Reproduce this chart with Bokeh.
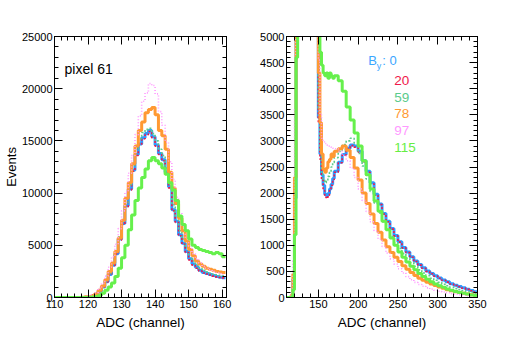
from bokeh.plotting import figure
from bokeh.layouts import row
from bokeh.models import (LinearAxis, SingleIntervalTicker, Label, Range1d, ColumnDataSource,
                          CustomLabelingPolicy, CustomJSTickFormatter)
from bokeh.embed import file_html
from bokeh.resources import INLINE

FONT = "Liberation Sans"

# ---------------- data ----------------
SERIES = ["0", "20", "59", "78", "97", "115"]
COLORS = {"0": "#2f9bff", "20": "#f0184a", "59": "#5ccb8c", "78": "#ff9933", "97": "#ff99ff", "115": "#66f04c"}
LABEL_COLORS = {"0": "#3aa6ff", "20": "#f0184a", "59": "#5ccb8c", "78": "#ff9933", "97": "#ff99ff", "115": "#66ee44"}

# left panel: 1-channel bins starting at 110
LEFT_FIRST_BIN = 110
LEFT_BIN_WIDTH = 1
left_0 = [0,0,0,0,0,0,0,0,10,30, 60,150,300,600,1000,1500,2200,3100,4200,5600,
          7100,8800,10400,12200,13700,14700,15300,15700,16000,15400,
          14600,13800,13200,12000,10600,8400,7300,6000,5200,4400,
          3700,3200,2900,2600,2400,2300,2200,2100,2000,1950, 1900]
left_20 = [0,0,0,0,0,0,0,0,10,30, 50,140,290,580,980,1480,2150,3050,4150,5500,
           7000,8700,10300,12100,13600,14600,15200,15600,15900,15300,
           14500,13700,13100,11900,10500,8300,7200,5900,5100,4300,
           3600,3100,2800,2550,2350,2250,2150,2050,1980,1930, 1880]
left_59 = [0,0,0,0,0,0,0,0,10,30, 70,170,330,650,1080,1600,2350,3300,4400,5800,
           7400,9100,10800,12600,14200,15200,15800,16100,16200,15700,
           15000,14200,13600,12400,11000,8900,7700,6400,5600,4800,
           4100,3500,3100,2800,2600,2450,2350,2250,2180,2120, 2080]
left_78 = [0,0,0,0,0,0,0,0,20,60, 100,200,350,700,1100,1700,2500,3300,4400,5700,
           7400,9500,11000,12800,14500,16000,16800,17700,18000,18200,
           17500,16000,15500,14200,12000,10500,9000,7600,6400,5400,
           4600,4000,3500,3200,3000,2800,2700,2600,2500,2450, 2400]
left_97 = [0,0,0,0,0,0,0,0,30,80, 150,250,450,850,1350,2050,2900,3900,5100,6600,
           8300,10100,11900,13600,15600,17400,18800,19600,20500,20300,
           19500,17800,16500,14900,13000,11300,9600,8100,6800,5700,
           4900,4200,3700,3300,3000,2800,2650,2500,2400,2300, 2200]
left_115 = [0,0,0,0,0,0,0,0,0,10, 20,50,100,200,400,700,1000,1400,2000,2800,
            3800,5000,6500,7900,9300,10500,11500,12300,13100,13400,
            13100,12800,12400,11800,11000,10300,9300,7800,7000,6400,
            5600,5000,4800,4600,4500,4400,4300,4200,4300,4200, 3900]

# right panel: bin edges (2-channel bins up to 170, 5-channel bins after)
right_edges = list(range(110, 170, 2)) + list(range(170, 351, 5))
right_0 = [0,0,0,40,350,1900,5400,9000,12500,15000,15800,15900,15600,15200,14800,14000,12600,10500,7600,5200,
           3450,2750,2350,2150,1980,1950,1990,2080,2170,2280,
           2420,2590,2740,2860,2920,2900,2800,2620,2420,2200,1980,1790,1610,1460,1320,1190,1070,960,
           870,780,700,630,570,510,460,415,375,335,300,265,235,210,185,160,135,110]
right_20 = [0,0,0,30,330,1850,5300,8900,12400,14900,15700,15800,15500,15100,14700,13900,12500,10400,7500,5100,
            3350,2650,2250,2050,1920,1900,1960,2050,2150,2260,
            2400,2580,2730,2850,2910,2880,2790,2600,2400,2180,1960,1780,1600,1450,1310,1180,1060,950,
            860,770,690,620,560,500,455,410,370,330,295,260,230,205,180,155,130,105]
right_59 = [0,0,0,40,380,2000,5600,9300,12800,15300,16100,16200,15900,15500,15100,14300,12900,10800,7900,5400,
            3600,2800,2400,2250,2200,2230,2320,2400,2500,2580,
            2680,2800,2930,3000,3050,2960,2760,2520,2270,2030,1810,1620,1450,1300,1170,1050,940,840,
            750,670,600,530,470,420,370,330,290,255,225,195,170,150,130,110,95,80]
right_78 = [0,0,0,50,450,2300,6200,10200,14000,16800,18000,18200,17900,17400,16900,16000,14500,12000,8800,6000,
            4300,3350,2750,2450,2400,2480,2600,2650,2750,2700,
            2800,2850,2900,2820,2680,2480,2250,2000,1800,1600,1420,1250,1100,970,860,770,690,610,
            540,480,420,370,330,290,260,230,200,175,150,130,110,95,80,65,55,45]
right_97 = [0,0,0,120,700,3600,7000,11200,15200,18300,20000,20500,20200,19500,18800,17600,15800,13000,9500,6400,
            4550,3500,3050,2980,2950,2920,2900,2900,2880,2860,
            2850,2800,2720,2620,2480,2300,2080,1860,1650,1450,1280,1120,980,850,740,640,550,470,
            400,340,290,250,215,185,160,140,120,105,90,75,65,55,45,35,30,25]
right_115 = [0,0,0,10,150,1200,4600,8000,10800,12600,13300,13400,13200,12900,12500,12000,11200,10000,8500,6800,
             5600,4700,4450,4300,4250,4300,4200,4300,4250,4200,
             4250,4150,3950,3650,3400,3150,2900,2620,2350,2080,1850,1650,1460,1300,1140,1000,870,770,
             680,600,530,460,400,350,300,260,225,195,165,140,115,95,80,65,50,40]

LEFT = {"0": left_0, "20": left_20, "59": left_59, "78": left_78, "97": left_97, "115": left_115}
RIGHT = {"0": right_0, "20": right_20, "59": right_59, "78": right_78, "97": right_97, "115": right_115}

STYLE = {
    "0":   dict(line_width=3.0),
    "20":  dict(line_width=1.6, line_dash="2 2"),
    "59":  dict(line_width=1.6, line_dash="2 2"),
    "78":  dict(line_width=3.0),
    "97":  dict(line_width=1.6, line_dash="1 2"),
    "115": dict(line_width=3.0),
}

NO_LABELS = """
const all = [...indices]
for (const i of all) { indices.unset(i) }
return indices
"""


def style_axis(ax, interval, labels=True):
    ax.ticker = SingleIntervalTicker(interval=interval, num_minor_ticks=5)
    ax.major_tick_in = 8
    ax.major_tick_out = 0
    ax.minor_tick_in = 4
    ax.minor_tick_out = 0
    ax.axis_line_color = "black"
    ax.major_tick_line_color = "black"
    ax.minor_tick_line_color = "black"
    ax.major_label_text_font = FONT
    ax.major_label_text_color = "black"
    ax.major_label_text_font_size = "11px"
    ax.axis_label_text_font = FONT
    ax.axis_label_text_font_style = "normal"
    ax.axis_label_text_color = "black"
    if labels:
        ax.major_label_standoff = 2
    else:
        ax.major_label_standoff = 0
        ax.formatter = CustomJSTickFormatter(code="return ''")
        ax.major_label_policy = CustomLabelingPolicy(code=NO_LABELS)


def make_panel(frame_w, xr, yr, bl, br, xint, yint):
    p = figure(frame_width=frame_w, frame_height=261, x_range=Range1d(*xr), y_range=Range1d(*yr),
               output_backend="svg", toolbar_location=None,
               min_border_left=bl, min_border_right=br, min_border_top=36, min_border_bottom=40)
    p.xgrid.visible = False
    p.ygrid.visible = False
    p.outline_line_color = "black"
    p.outline_line_width = 1
    p.background_fill_color = "white"
    p.border_fill_color = "white"
    bottom = p.below[0]
    left = p.left[0]
    style_axis(bottom, xint)
    style_axis(left, yint)
    bottom.axis_label = "ADC (channel)"
    bottom.axis_label_text_font_size = "13.5px"
    bottom.axis_label_standoff = 4
    top = LinearAxis()
    style_axis(top, xint, labels=False)
    p.add_layout(top, "above")
    right = LinearAxis()
    style_axis(right, yint, labels=False)
    p.add_layout(right, "right")
    return p, left


def draw_hist(p, edges, values, key):
    src = ColumnDataSource(dict(x=list(edges), y=list(values) + [values[-1]]))
    p.step(x="x", y="y", source=src, mode="after", line_color=COLORS[key], **STYLE[key])


# ---------------- left panel ----------------
p1, yax1 = make_panel(172, (110, 161.3), (0, 25000), 47, 23, 10, 5000)
yax1.axis_label = "Events"
yax1.axis_label_text_font_size = "13px"
yax1.axis_label_standoff = 0
for k in SERIES:
    vals = LEFT[k]
    edges = [LEFT_FIRST_BIN + i * LEFT_BIN_WIDTH for i in range(len(vals) + 1)]
    draw_hist(p1, edges, vals, k)
p1.add_layout(Label(x=113, y=21900, text="pixel 61", text_font=FONT, text_font_size="14px",
                    text_color="black", text_baseline="alphabetic"))

# ---------------- right panel ----------------
p2, _ = make_panel(191, (110, 350), (0, 5000), 37, 21, 50, 500)
for k in SERIES:
    draw_hist(p2, right_edges, RIGHT[k], k)

LEG_X = 245.5
p2.add_layout(Label(x=LEG_X, y=4540, x_offset=-26, text="B", text_font=FONT, text_font_size="13px",
                    text_color=LABEL_COLORS["0"], text_baseline="alphabetic", text_align="left"))
p2.add_layout(Label(x=LEG_X, y=4440, x_offset=-17.5, text="y", text_font=FONT, text_font_size="9px",
                    text_color=LABEL_COLORS["0"], text_baseline="alphabetic", text_align="left"))
p2.add_layout(Label(x=LEG_X, y=4540, x_offset=-12, text=": 0", text_font=FONT, text_font_size="13px",
                    text_color=LABEL_COLORS["0"], text_baseline="alphabetic", text_align="left"))
label_y = {"20": 4157, "59": 3838, "78": 3519, "97": 3199, "115": 2874}
for k in ["20", "59", "78", "97", "115"]:
    p2.add_layout(Label(x=LEG_X, y=label_y[k], text=k, text_font=FONT, text_font_size="13.5px",
                        text_color=LABEL_COLORS[k], text_baseline="alphabetic", text_align="left"))

layout = row(p1, p2)
open("out.html", "w").write(file_html(layout, INLINE))
